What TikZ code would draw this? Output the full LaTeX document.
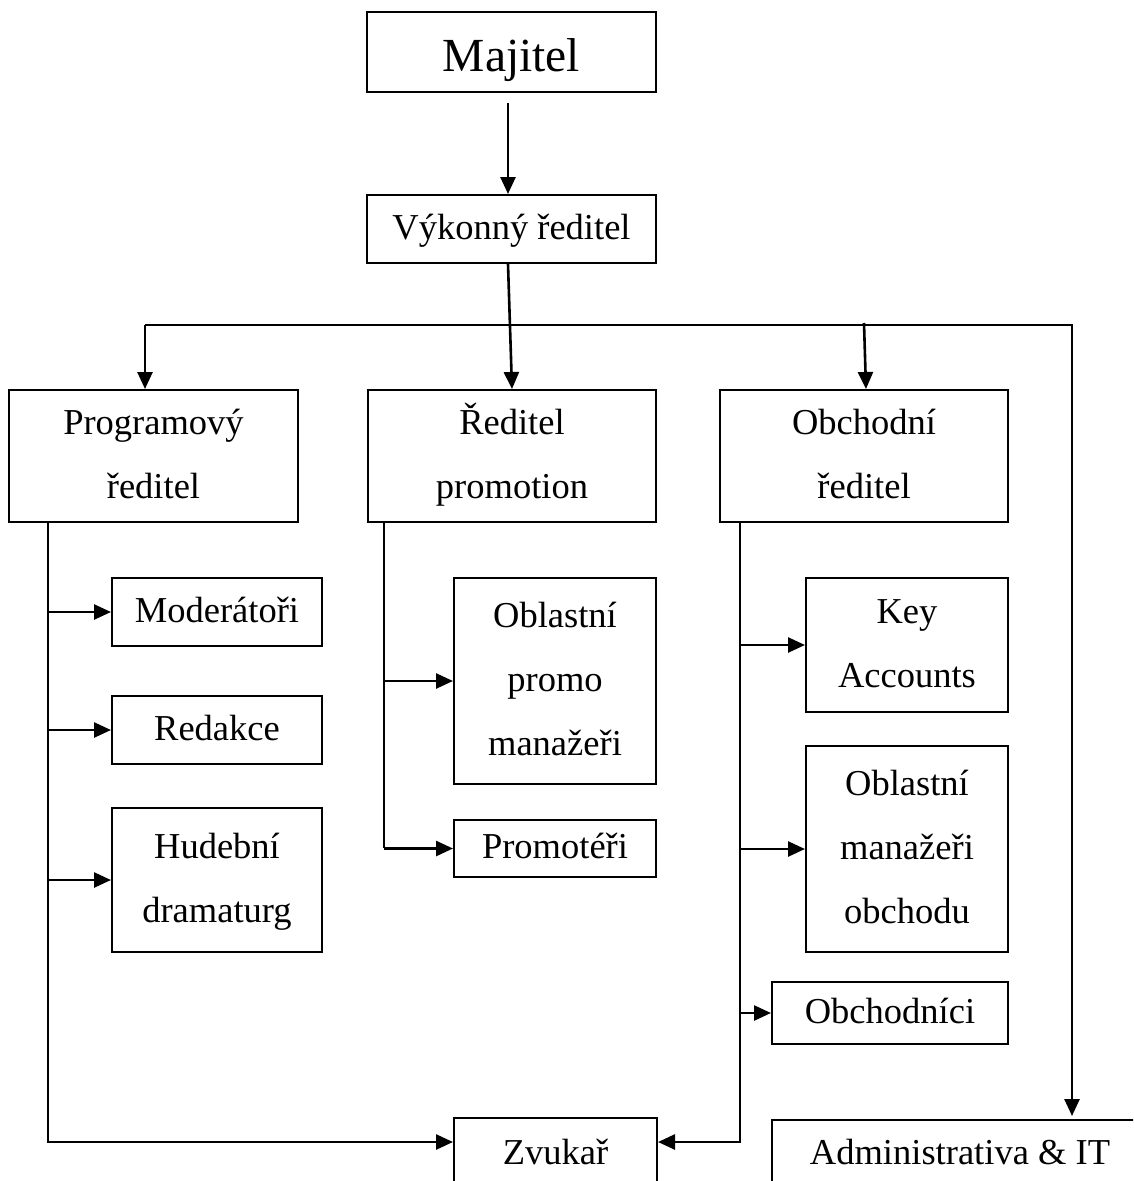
\documentclass[tikz,border=0pt]{standalone}
\usepackage{fontspec}
\setmainfont{Liberation Serif}
\usetikzlibrary{arrows.meta,calc}
\newcommand\lsA{\rule[-16pt]{0pt}{52pt}}
\newcommand\lsB{\rule[-14pt]{0pt}{66pt}}
\tikzset{
  box/.style={draw, line width=2pt, inner sep=0pt, align=center,
    font=\fontsize{36.5}{64}\selectfont},
  conn/.style={line width=2.6pt},
  arr/.style={conn, -{Triangle[length=17pt,width=15pt]}}
}
\begin{document}
\begin{tikzpicture}[x=1pt,y=-1pt]
\useasboundingbox (0,0) rectangle (1133,1181);
\clip (0,0) rectangle (1133,1181);
\fill[white] (0,0) rectangle (1133,1181);

\node[box, minimum width=289pt, minimum height=80pt, font=\fontsize{47.5}{64}\selectfont] (maj) at (511.5,52) {\lsB Majitel};
\node[box, minimum width=289pt, minimum height=68pt] (vyk) at (511.5,229) {\lsA Výkonný ředitel};

\node[box, minimum width=289pt, minimum height=132pt] (prog) at (153.5,456) {\lsA Programový\\\lsA ředitel};
\node[box, minimum width=288pt, minimum height=132pt] (prom) at (512,456) {\lsA Ředitel\\\lsA promotion};
\node[box, minimum width=288pt, minimum height=132pt] (obch) at (864,456) {\lsA Obchodní\\\lsA ředitel};

\node[box, minimum width=210pt, minimum height=68pt] (mod) at (217,612) {\lsA Moderátoři};
\node[box, minimum width=210pt, minimum height=68pt] (red) at (217,730) {\lsA Redakce};
\node[box, minimum width=210pt, minimum height=144pt] (hud) at (217,880) {\lsA Hudební\\\lsA dramaturg};

\node[box, minimum width=202pt, minimum height=206pt] (oblp) at (555,681) {\lsA Oblastní\\\lsA promo\\\lsA manažeři};
\node[box, minimum width=202pt, minimum height=57pt] (promot) at (555,848.5) {\lsA Promotéři};

\node[box, minimum width=202pt, minimum height=134pt] (key) at (907,645) {\lsA Key\\\lsA Accounts};
\node[box, minimum width=202pt, minimum height=206pt] (oblm) at (907,849) {\lsA Oblastní\\\lsA manažeři\\\lsA obchodu};
\node[box, minimum width=236pt, minimum height=62pt] (obchi) at (890,1013) {\lsA Obchodníci};

\node[box, minimum width=203pt, minimum height=72pt] (zvuk) at (555.5,1154) {\lsA Zvukař};
\node[box, minimum width=376pt, minimum height=68pt] (adm) at (960,1154) {\lsA Administrativa \& IT};

% named connector points
\coordinate (busL) at (145,325);
\coordinate (busR) at (1072,325);
\coordinate (lsBot) at (48,1142);
\coordinate (ms) at (384,848);
\coordinate (rsBot) at (740,1142);

% top
\draw[arr] ($(maj.south)+(-3.5,10)$) -- ($(vyk.north)+(-3.5,0)$);
\draw[arr] ($(vyk.south)+(-3.5,0)$) -- (prom.north);

% bus
\draw[arr] (busL) -- (busR) -- ($(busR |- adm.north)+(0,-3)$);
\draw[arr] (busL) -- (busL |- prog.north);
\draw[arr] ($(obch.north |- busL)+(0,-2)$) -- ($(obch.north)+(2,0)$);

% left spine
\draw[arr] (prog.south -| lsBot) -- (lsBot) -- (lsBot -| zvuk.west);
\draw[arr] (mod.west -| lsBot) -- (mod.west);
\draw[arr] (red.west -| lsBot) -- (red.west);
\draw[arr] (hud.west -| lsBot) -- (hud.west);

% middle spine
\draw[conn] (prom.south -| ms) -- (ms);
\draw[arr] (oblp.west -| ms) -- (oblp.west);
\draw[arr] (promot.west -| ms) -- (promot.west);

% right spine
\draw[arr] (obch.south -| rsBot) -- (rsBot) -- (rsBot -| zvuk.east);
\draw[arr] (key.west -| rsBot) -- (key.west);
\draw[arr] (oblm.west -| rsBot) -- (oblm.west);
\draw[arr] (obchi.west -| rsBot) -- (obchi.west);
\end{tikzpicture}
\end{document}
